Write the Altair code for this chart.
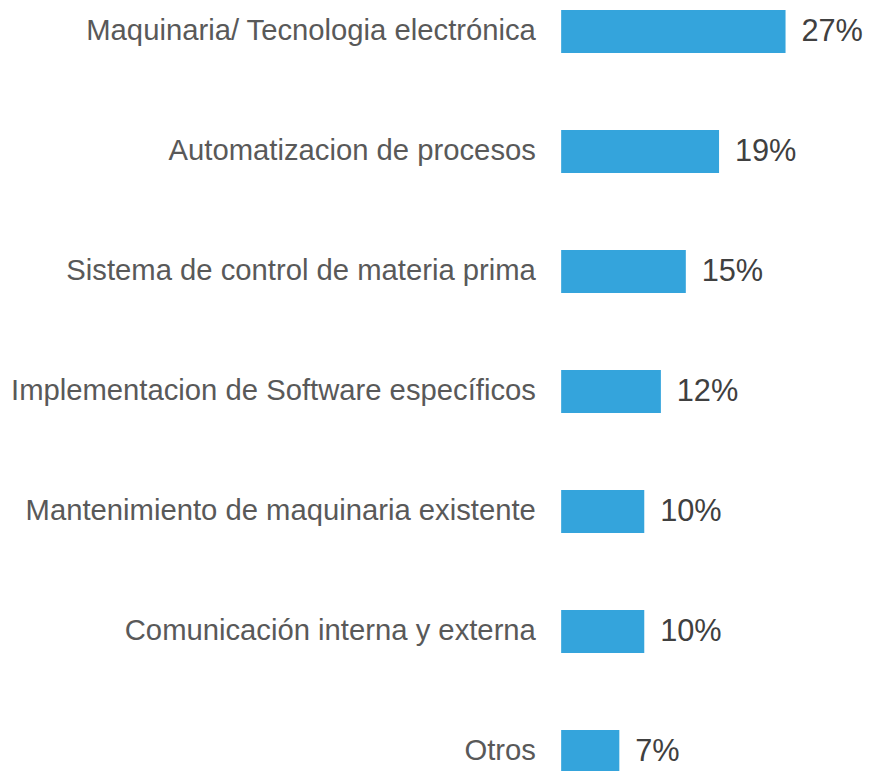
import altair as alt
import pandas as pd

categories = [
    "Maquinaria/ Tecnologia electrónica",
    "Automatizacion de procesos",
    "Sistema de control de materia prima",
    "Implementacion de Software específicos",
    "Mantenimiento de maquinaria existente",
    "Comunicación interna y externa",
    "Otros",
]
values = [27, 19, 15, 12, 10, 10, 7]
labels = ["27%", "19%", "15%", "12%", "10%", "10%", "7%"]

df = pd.DataFrame({"cat": categories, "val": values, "lab": labels})

y = alt.Y(
    "cat:N",
    sort=categories,
    scale=alt.Scale(paddingInner=0.642, paddingOuter=0, range=[-1.3, 768.3]),
    axis=alt.Axis(
        title=None, domain=False, ticks=False, labelPadding=26,
        labelFontSize=29.5, labelColor="#595959", labelFont="Liberation Sans",
        labelLimit=700,
    ),
)
x = alt.X("val:Q", scale=alt.Scale(domain=[0, 30]), axis=None)

bars = alt.Chart(df).mark_bar(color="#34A4DC").encode(x=x, y=y)
text = alt.Chart(df).mark_text(
    align="left", baseline="middle", dx=16, dy=1, fontSize=31,
    color="#404040", font="Liberation Sans"
).encode(x=x, y=y, text="lab:N")

chart = (bars + text).properties(
    width=251.5, height=763,
    padding={"left": 558, "top": 0, "right": 55, "bottom": 0},
    autosize=alt.AutoSizeParams(type="none"),
).configure_view(stroke=None)

chart.save("out.html", embed_options={"renderer": "svg", "actions": False})
